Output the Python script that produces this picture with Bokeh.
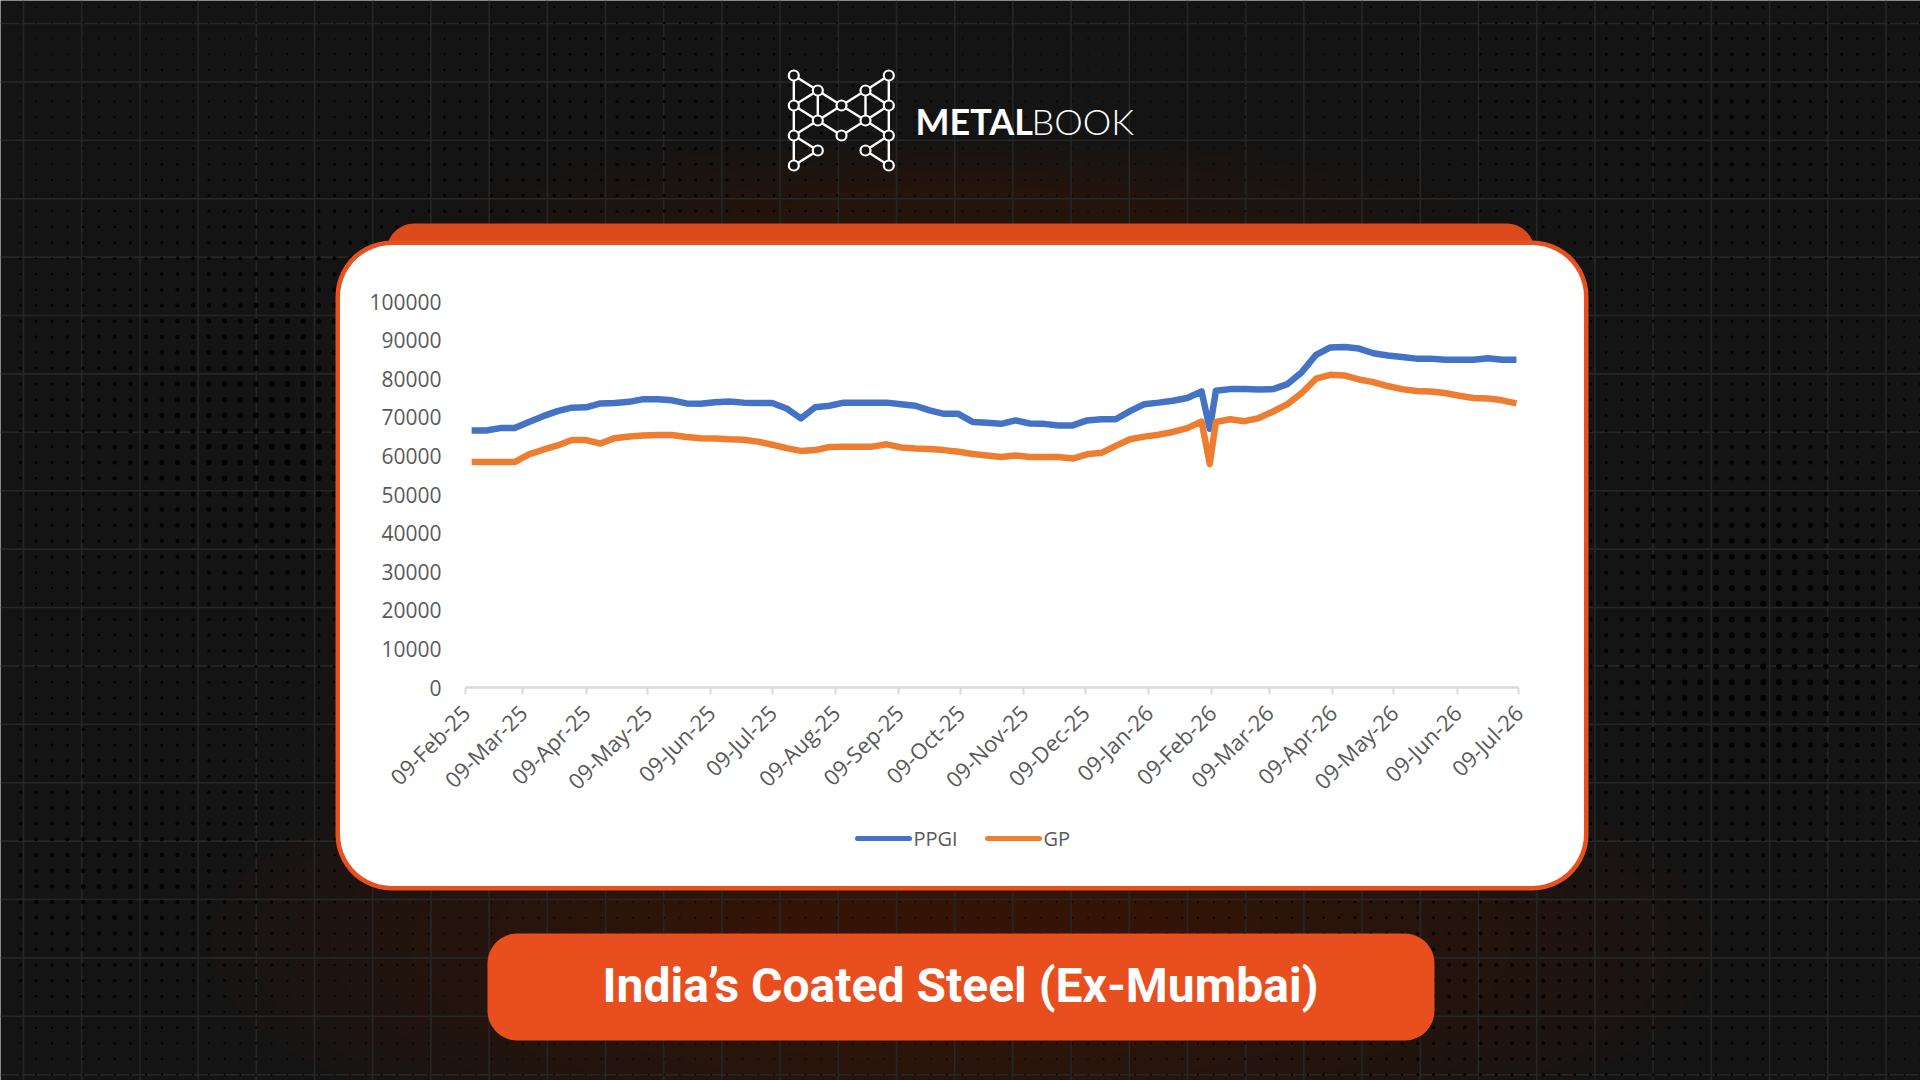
import numpy as np
import pandas as pd
from bokeh.plotting import figure
from bokeh.models import (Range1d, ColumnDataSource, LinearAxis, DatetimeAxis,
                          FixedTicker, NumeralTickFormatter, DatetimeTickFormatter)
from bokeh.core.properties import value
from bokeh.embed import file_html
from bokeh.resources import INLINE

# ---------------- data: weekly ex-Mumbai prices (Rs/tonne) ----------------
first_week = "2025-02-12"
n_weeks = 74
flash_date = "2026-02-08"      # extra mid-week quote
flash_pos = 52

ppgi = [66600, 66600, 67200, 67200, 68800, 70300, 71600, 72500, 72600, 73600,
        73700, 74000, 74700, 74700, 74400, 73600, 73500, 73900, 74100, 73800,
        73700, 73700, 72300, 69700, 72600, 73000, 73800, 73800, 73800, 73800,
        73400, 73000, 71800, 70900, 70900, 68800, 68600, 68300, 69200, 68400,
        68300, 67900, 67900, 69200, 69500, 69500, 71600, 73400, 73800, 74300,
        75000, 76700, 67000, 76900, 77300, 77300, 77200, 77300, 78600, 81700,
        86200, 88100, 88200, 87800, 86600, 86000, 85600, 85200, 85200, 84900,
        84900, 84900, 85300, 84900, 84900]

gp = [58400, 58400, 58400, 58400, 60400, 61600, 62700, 64100, 64100, 63200,
      64600, 65000, 65300, 65400, 65400, 64900, 64600, 64500, 64300, 64200,
      63700, 62900, 62000, 61300, 61500, 62300, 62400, 62400, 62400, 63000,
      62200, 61900, 61800, 61500, 61100, 60500, 60100, 59700, 60100, 59700,
      59700, 59700, 59300, 60400, 60800, 62600, 64300, 65000, 65500, 66200,
      67200, 68900, 57900, 68800, 69500, 69000, 69800, 71500, 73400, 76300,
      80000, 81000, 80800, 79800, 79100, 78100, 77300, 76800, 76700, 76300,
      75600, 75000, 74900, 74400, 73600]

series_names = ["PPGI", "GP"]
series_colors = ["#4472C4", "#ED7D31"]
month_ticks = pd.date_range("2025-02-09", "2026-07-09", freq=pd.DateOffset(months=1))
value_ticks = list(range(0, 100001, 10000))
title_text = "India\u2019s Coated Steel (Ex-Mumbai)"

dates = list(pd.date_range(first_week, periods=n_weeks, freq="7D"))
dates.insert(flash_pos, pd.Timestamp(flash_date))

# ---------------- page geometry (pixels, y downwards) ----------------
W, H = 1920, 1080
PLOT_L, PLOT_R = 465, 1518          # first / last month tick
ZERO_Y, TOP_Y = 687, 301            # value 0 / top tick
BG = "#141414"
ORANGE = "#E8501F"


def ms(t):
    return pd.Timestamp(t).value / 1e6


x_lo, x_hi = ms(month_ticks[0]), ms(month_ticks[-1])
px_per_ms = (PLOT_R - PLOT_L) / (x_hi - x_lo)
date_range = Range1d(start=x_lo - PLOT_L / px_per_ms, end=x_hi + (W - PLOT_R) / px_per_ms)
v_per_px = value_ticks[-1] / (ZERO_Y - TOP_Y)
val_range = Range1d(start=-(H - ZERO_Y) * v_per_px, end=ZERO_Y * v_per_px)

p = figure(width=W, height=H, x_range=Range1d(0, W), y_range=Range1d(H, 0),
           x_axis_type=None, y_axis_type=None, output_backend="svg",
           toolbar_location=None, min_border=0, outline_line_color=None,
           background_fill_color=BG, border_fill_color=BG)
p.extra_x_ranges = {"date": date_range}
p.extra_y_ranges = {"val": val_range}


def rounded_rect(x0, y0, x1, y1, r, rb=None, n=14):
    rb = r if rb is None else rb
    xs, ys = [], []
    for cx, cy, rr, a0 in [(x1 - r, y0 + r, r, -90), (x1 - rb, y1 - rb, rb, 0),
                           (x0 + rb, y1 - rb, rb, 90), (x0 + r, y0 + r, r, 180)]:
        for a in np.linspace(a0, a0 + 90, n):
            xs.append(cx + rr * np.cos(np.radians(a)))
            ys.append(cy + rr * np.sin(np.radians(a)))
    return xs, ys


# ---------------- backdrop ----------------
for k in range(14):
    p.ellipse(x=960, y=945, width=1500 - k * 80, height=470 - k * 26,
              fill_color="#6e1e0c", fill_alpha=0.035, line_color=None)
for k in range(8):
    p.ellipse(x=960, y=215, width=1000 - k * 90, height=160 - k * 14,
              fill_color="#6e1e0c", fill_alpha=0.03, line_color=None)

gx = np.arange(23, W, 58.2)
gy = np.arange(23, H, 58.4)
p.segment(x0=gx, y0=0, x1=gx, y1=H, line_color="#262626", line_width=1.6)
p.segment(x0=0, y0=gy, x1=W, y1=gy, line_color="#262626", line_width=1.6)

dx = np.arange(20, W, 15.7)
dy = np.arange(6.7, H, 15.7)
DX, DY = np.meshgrid(dx, dy)
shade = np.zeros_like(DX)
for cx, cy, sx, sy, amp in [(300, 430, 260, 230, 1.0), (1760, 640, 220, 260, 1.0),
                            (120, 880, 180, 150, 0.7), (1700, 120, 250, 150, 0.6),
                            (650, 130, 220, 120, 0.45), (1500, 1000, 260, 120, 0.5)]:
    shade += amp * np.exp(-((DX - cx) / sx) ** 2 - ((DY - cy) / sy) ** 2)
dot_size = 1.5 + 4.5 * np.clip(shade, 0, 1)
p.scatter(DX.ravel(), DY.ravel(), size=dot_size.ravel(), marker="circle",
          fill_color="#020202", line_color=None)

# ---------------- logo ----------------
col = [793.3, 817.3, 841.0, 865.0, 888.3]
row = [75 + 15 * i for i in range(7)]
nodes = {"A": (0, 0), "B": (4, 0), "C": (1, 1), "D": (3, 1), "E": (0, 2), "F": (2, 2),
         "G": (4, 2), "H": (1, 3), "I": (3, 3), "J": (0, 4), "K": (2, 4), "L": (4, 4),
         "M": (1, 5), "N": (3, 5), "O": (0, 6), "P": (4, 6)}
edges = ["AE", "EJ", "JO", "BG", "GL", "LP", "AC", "CF", "FD", "DB", "CE", "DG",
         "CH", "DI", "EH", "HF", "FI", "IG", "HJ", "HK", "KI", "IL", "JM", "MO",
         "LN", "NP"]
pos = {k: (col[c], row[r]) for k, (c, r) in nodes.items()}
p.segment(x0=[pos[e[0]][0] for e in edges], y0=[pos[e[0]][1] for e in edges],
          x1=[pos[e[1]][0] for e in edges], y1=[pos[e[1]][1] for e in edges],
          line_color="white", line_width=2.4)
p.scatter([v[0] for v in pos.values()], [v[1] for v in pos.values()], size=10,
          marker="circle", fill_color=BG, line_color="white", line_width=2.2)
p.text(x=[915], y=[120], text=["METAL"], text_font=value("Lato"), text_font_size="36px",
       text_font_style="bold", text_color="white", text_align="left",
       text_baseline="middle")
p.text(x=[1031], y=[120], text=["BOOK"], text_font=value("Lato Light"),
       text_font_size="36px", text_color="white", text_align="left",
       text_baseline="middle")

# ---------------- card ----------------
xs, ys = rounded_rect(386, 223, 1534, 320, 28, rb=0)
p.patch(xs, ys, fill_color="#DC4A1C", line_color=None)
xs, ys = rounded_rect(335, 240, 1588, 890, 56)
p.patch(xs, ys, fill_color=ORANGE, line_color=None)
xs, ys = rounded_rect(339.5, 244.5, 1583.5, 885.5, 52)
p.patch(xs, ys, fill_color="white", line_color=None)

# ---------------- price lines ----------------
src = ColumnDataSource(dict(date=dates, PPGI=ppgi, GP=gp))
for name, color in zip(series_names, series_colors):
    p.line("date", name, source=src, x_range_name="date", y_range_name="val",
           line_color=color, line_width=6.5, line_join="round", line_cap="butt")

label_font = "Open Sans"
label_color = "#595959"

date_fmt = "%d-%b-%y"
xaxis = DatetimeAxis(x_range_name="date", y_range_name="val", fixed_location=0,
                     bounds=(x_lo, x_hi),
                     ticker=FixedTicker(ticks=[ms(t) for t in month_ticks]),
                     formatter=DatetimeTickFormatter(
                         microseconds=date_fmt, milliseconds=date_fmt, seconds=date_fmt,
                         minsec=date_fmt, minutes=date_fmt, hourmin=date_fmt,
                         hours=date_fmt, days=date_fmt, months=date_fmt, years=date_fmt))
xaxis.major_label_orientation = np.pi / 4
xaxis.axis_line_color = "#D9D9D9"
xaxis.axis_line_width = 2.5
xaxis.major_tick_line_color = "#D9D9D9"
xaxis.major_tick_line_width = 2
xaxis.major_tick_out = 7
xaxis.major_tick_in = 0
xaxis.minor_tick_line_color = None
xaxis.major_label_standoff = 14
xaxis.major_label_text_font = label_font
xaxis.major_label_text_font_size = "22px"
xaxis.major_label_text_color = label_color

yaxis = LinearAxis(x_range_name="date", y_range_name="val", fixed_location=x_lo,
                   bounds=(value_ticks[0], value_ticks[-1]),
                   ticker=FixedTicker(ticks=value_ticks),
                   formatter=NumeralTickFormatter(format="0"))
yaxis.axis_line_color = None
yaxis.major_tick_line_color = None
yaxis.minor_tick_line_color = None
yaxis.major_label_standoff = 18
yaxis.major_label_text_font = label_font
yaxis.major_label_text_font_size = "21px"
yaxis.major_label_text_color = label_color

p.add_layout(yaxis, "left")
p.add_layout(xaxis, "below")

# ---------------- legend ----------------
for name, color, lx in zip(series_names, series_colors, [857, 987]):
    p.segment(x0=[lx], y0=[838], x1=[lx + 52], y1=[838], line_color=color,
              line_width=5, line_cap="round")
    p.text(x=[lx + 56], y=[838], text=[name], text_font=value(label_font),
           text_font_size="20px", text_color=label_color, text_align="left",
           text_baseline="middle")

# ---------------- title banner ----------------
xs, ys = rounded_rect(487, 933, 1434, 1040, 30)
p.patch(xs, ys, fill_color="#E84E1E", line_color=None)
p.text(x=[960], y=[985], text=[title_text], text_font=value("Roboto"),
       text_font_size="48px", text_font_style="bold", text_color="white",
       text_align="center", text_baseline="middle")

open("out.html", "w").write(file_html(p, INLINE))
